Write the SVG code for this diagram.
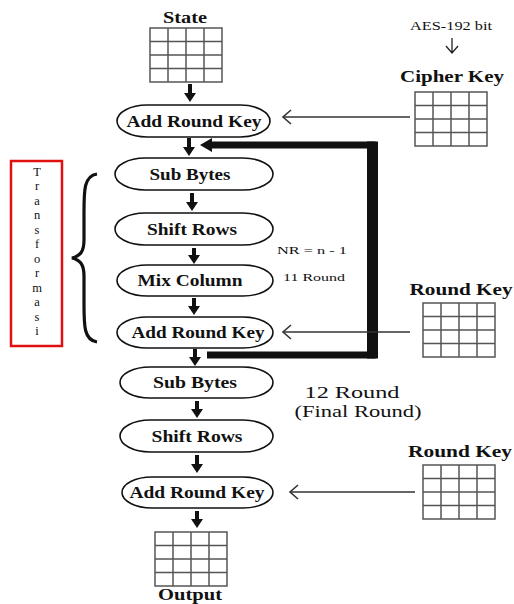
<svg xmlns="http://www.w3.org/2000/svg" width="514" height="604" viewBox="0 0 514 604">
<style>
  .lbl{font-family:"Liberation Serif","Times New Roman",serif;font-weight:bold;fill:#111;text-anchor:middle}
  .nrm{font-family:"Liberation Serif","Times New Roman",serif;fill:#111;text-anchor:middle}
  .node{fill:#fff;stroke:#111;stroke-width:1.6}
  .grid{fill:#fff;stroke:#555;stroke-width:1.5}
  .down{stroke:#111;stroke-width:4;fill:none}
  .key{stroke:#333;stroke-width:1.6;fill:none;marker-end:url(#open)}
</style>
<defs>
  <marker id="open" viewBox="0 0 12 16" refX="10" refY="8" markerWidth="12" markerHeight="16" markerUnits="userSpaceOnUse" orient="auto">
    <polyline points="2,1 10,8 2,15" fill="none" stroke="#333" stroke-width="1.6"/>
  </marker>
  <g id="g4">
    <rect x="0" y="0" width="72" height="54" class="grid"/>
    <path d="M18,0V54M36,0V54M54,0V54M0,13.5H72M0,27H72M0,40.5H72" stroke="#555" stroke-width="1.5" fill="none"/>
  </g>
</defs>

<g id="state">
  <text x="185" y="23" class="lbl" font-size="17" textLength="44" lengthAdjust="spacingAndGlyphs">State</text>
  <use href="#g4" x="150" y="28"/>
</g>
<g id="cipherkey">
  <text x="451" y="30" class="nrm" font-size="11.5" textLength="82" lengthAdjust="spacingAndGlyphs">AES-192 bit</text>
  <path d="M452,38V52M446,46L452,53L458,46" fill="none" stroke="#222" stroke-width="1.3"/>
  <text x="452" y="82" class="lbl" font-size="17" textLength="104" lengthAdjust="spacingAndGlyphs">Cipher Key</text>
  <use href="#g4" x="415" y="92"/>
</g>
<g id="ark1">
  <rect x="117" y="105" width="153" height="32" rx="30" ry="16" class="node"/>
  <text x="194" y="127" class="lbl" font-size="16" textLength="135" lengthAdjust="spacingAndGlyphs">Add Round Key</text>
</g>
<g id="transformasi">
  <rect x="11" y="161" width="51" height="185" fill="none" stroke="#e01010" stroke-width="2.5"/>
  <g class="nrm" font-size="12.5">
    <text x="37" y="176">T</text><text x="37" y="190">r</text><text x="37" y="205">a</text><text x="37" y="219">n</text>
    <text x="37" y="234">s</text><text x="37" y="248">f</text><text x="37" y="263">o</text><text x="37" y="277">r</text>
    <text x="37" y="292">m</text><text x="37" y="306">a</text><text x="37" y="321">s</text><text x="37" y="335">i</text>
  </g>
</g>
<g id="brace">
  <path d="M97,174 C84,176 84,190 84,212 L84,240 C84,252 80,256 72,258 C80,260 84,264 84,276 L84,304 C84,326 84,340 97,342" fill="none" stroke="#111" stroke-width="3.2"/>
</g>
<g id="subbytes1">
  <rect x="115" y="158" width="158" height="32" rx="30" ry="16" class="node"/>
  <text x="190" y="180" class="lbl" font-size="16" textLength="81" lengthAdjust="spacingAndGlyphs">Sub Bytes</text>
</g>
<g id="shiftrows1">
  <rect x="115" y="213" width="158" height="32" rx="30" ry="16" class="node"/>
  <text x="192" y="235" class="lbl" font-size="16" textLength="90" lengthAdjust="spacingAndGlyphs">Shift Rows</text>
</g>
<g id="mixcolumn">
  <rect x="117" y="265" width="156" height="31" rx="30" ry="15.5" class="node"/>
  <text x="190" y="286" class="lbl" font-size="16" textLength="105" lengthAdjust="spacingAndGlyphs">Mix Column</text>
</g>
<g id="ark2">
  <rect x="117" y="317" width="156" height="31" rx="30" ry="15.5" class="node"/>
  <text x="198" y="338" class="lbl" font-size="16" textLength="133" lengthAdjust="spacingAndGlyphs">Add Round Key</text>
</g>
<g id="nrnote">
  <text x="312" y="254" class="nrm" font-size="11" textLength="70" lengthAdjust="spacingAndGlyphs">NR = n - 1</text>
  <text x="314" y="281" class="nrm" font-size="11" textLength="62" lengthAdjust="spacingAndGlyphs">11 Round</text>
</g>
<g id="roundkey1">
  <text x="461" y="295" class="lbl" font-size="17" textLength="103" lengthAdjust="spacingAndGlyphs">Round Key</text>
  <use href="#g4" x="423" y="303"/>
</g>
<g id="subbytes2">
  <rect x="120" y="367" width="153" height="31" rx="30" ry="15.5" class="node"/>
  <text x="195" y="388" class="lbl" font-size="16" textLength="84" lengthAdjust="spacingAndGlyphs">Sub Bytes</text>
</g>
<g id="finalnote">
  <text x="352" y="398" class="nrm" font-size="16" textLength="95" lengthAdjust="spacingAndGlyphs">12 Round</text>
  <text x="358" y="417" class="nrm" font-size="16" textLength="127" lengthAdjust="spacingAndGlyphs">(Final Round)</text>
</g>
<g id="shiftrows2">
  <rect x="120" y="420" width="153" height="32" rx="30" ry="16" class="node"/>
  <text x="197" y="442" class="lbl" font-size="16" textLength="91" lengthAdjust="spacingAndGlyphs">Shift Rows</text>
</g>
<g id="ark3">
  <rect x="122" y="477" width="151" height="31" rx="30" ry="15.5" class="node"/>
  <text x="197" y="498" class="lbl" font-size="16" textLength="135" lengthAdjust="spacingAndGlyphs">Add Round Key</text>
</g>
<g id="roundkey2">
  <text x="460" y="457" class="lbl" font-size="17" textLength="104" lengthAdjust="spacingAndGlyphs">Round Key</text>
  <use href="#g4" x="423" y="465"/>
</g>
<g id="output">
  <use href="#g4" x="155" y="532"/>
  <text x="190" y="600" class="lbl" font-size="17" textLength="64" lengthAdjust="spacingAndGlyphs">Output</text>
</g>

<g id="connectors">
  <g fill="#111">
    <path d="M190,84V94" class="down"/><path d="M184,93H196L190,102Z"/>
    <path d="M189,138V148" class="down"/><path d="M183,147H195L189,156Z"/>
    <path d="M192,193V203" class="down"/><path d="M186,202H198L192,211Z"/>
    <path d="M194,248V256" class="down"/><path d="M188,255H200L194,264Z"/>
    <path d="M194,298V307" class="down"/><path d="M188,306H200L194,315Z"/>
    <path d="M195,349V358" class="down"/><path d="M189,357H201L195,366Z"/>
    <path d="M197,401V410" class="down"/><path d="M191,409H203L197,418Z"/>
    <path d="M197,455V465" class="down"/><path d="M191,464H203L197,473Z"/>
    <path d="M197,511V520" class="down"/><path d="M191,519H203L197,528Z"/>
  </g>
  <path d="M207,355H372V145H210" fill="none" stroke="#111" stroke-width="7"/>
  <rect x="367" y="141.5" width="11" height="217" fill="#111"/>
  <path d="M200,145L212,138V152Z" fill="#111"/>
  <path d="M410,117H283" class="key"/>
  <path d="M410,332H283" class="key"/>
  <path d="M415,492H290" class="key"/>
</g>
</svg>
